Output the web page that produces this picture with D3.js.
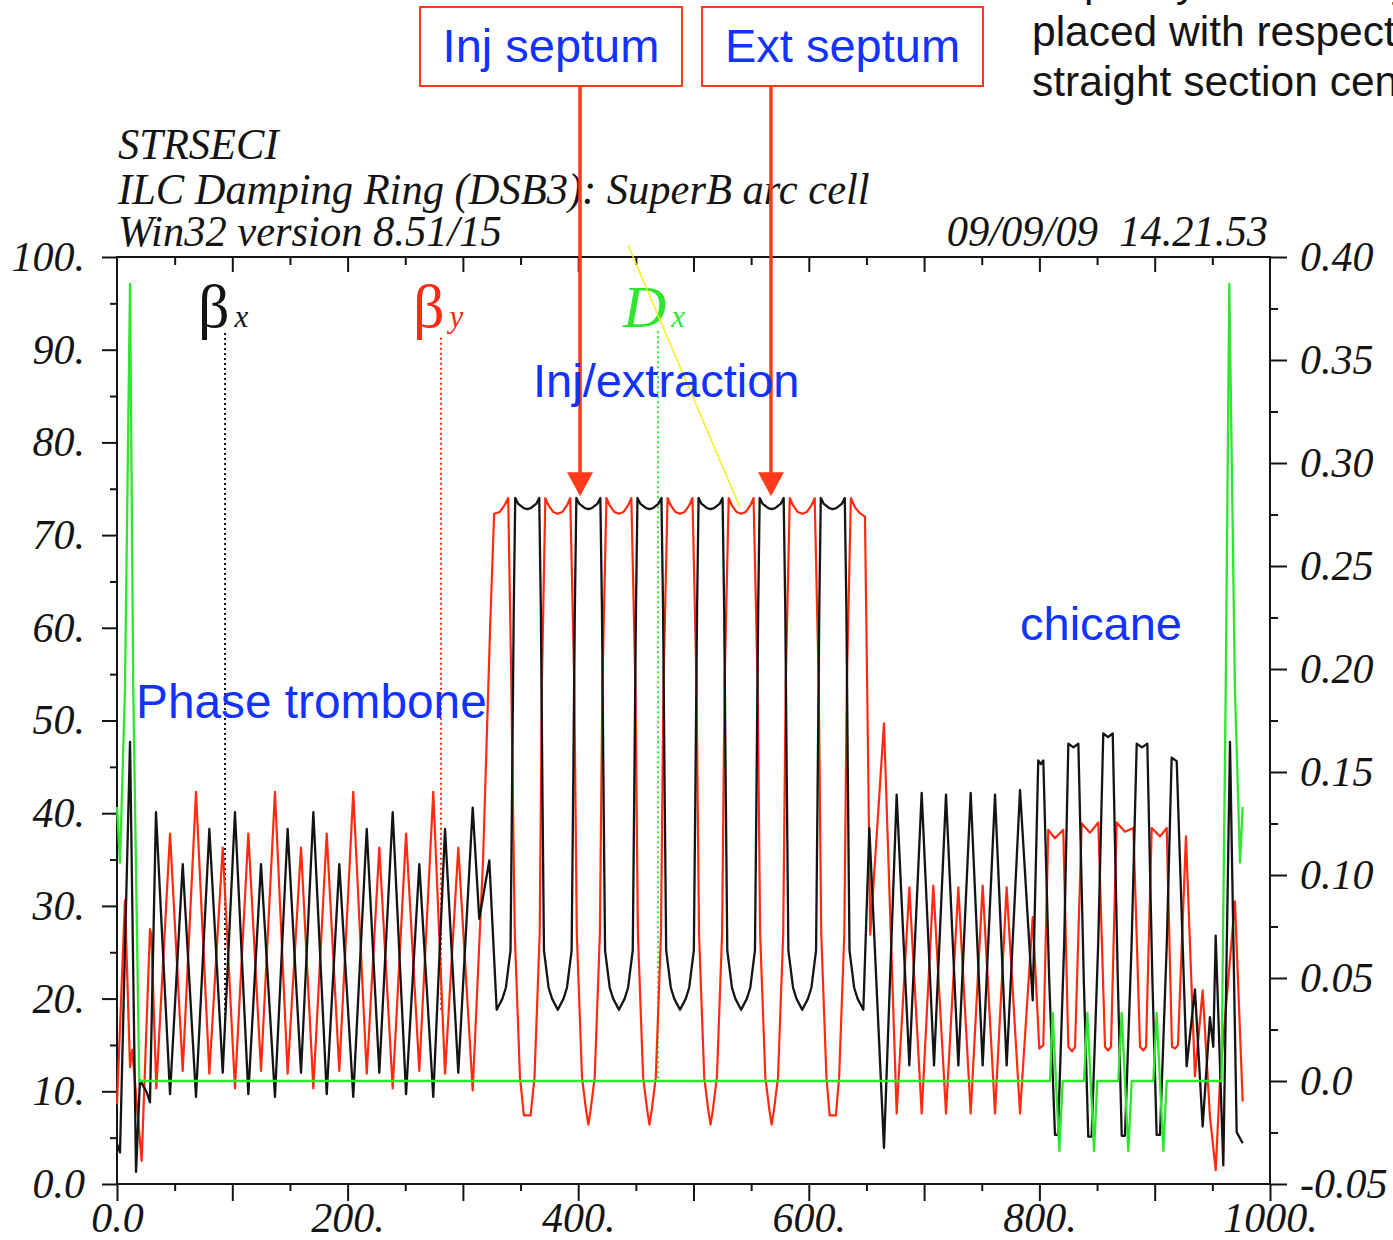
<!DOCTYPE html>
<html><head><meta charset="utf-8">
<script src="https://cdn.jsdelivr.net/npm/d3@7"></script>
<style>
html,body{margin:0;padding:0;background:#fff;}
svg{display:block;}
</style></head>
<body>
<svg id="chart" width="1393" height="1240"></svg>
<script>
// ---------- data (s [m], value) ----------
const betaX = [
[0,4.3],[2.6,3.4],[11.3,47.7],[16.5,1.3],[19.9,11.2],[25.8,9.9],[28.6,8.8],
[33.8,40.1],[46.0,9.7],[57.0,34.5],[68.5,9.4],[80.1,38.3],[91.7,12.0],
[102.3,40.1],[113.9,9.7],[124.9,34.5],[137.0,9.4],[148.0,38.3],[159.6,12.0],
[170.3,40.1],[181.9,9.7],[192.8,34.5],[204.9,9.4],[216.6,38.3],[227.5,12.0],
[239.1,40.1],[250.7,9.7],[262.2,34.5],[274.3,9.4],[284.5,38.3],[296.0,12.0],
[308.5,40.6],[314.2,28.6],[322.9,34.9],
[329.3,18.8],[334.3,20.0],[337.3,21.2],[341.3,25.2],[342.6,42],[344.1,62],[345.4,74.0],[347.8,73.4],[352.8,72.9],[355.8,72.8],[358.8,72.9],[363.8,73.4],[366.2,74.0],[367.6,62],[369.0,42],[370.3,25.2],[374.3,21.2],[377.3,20.0],
[382.3,18.8],[387.3,20.0],[390.3,21.2],[394.3,25.2],[395.6,42],[397.1,62],[398.4,74.0],[400.8,73.4],[405.8,72.9],[408.8,72.8],[411.8,72.9],[416.8,73.4],[419.2,74.0],[420.6,62],[422.0,42],[423.3,25.2],[427.3,21.2],[430.3,20.0],
[435.3,18.8],[440.3,20.0],[443.3,21.2],[447.3,25.2],[448.6,42],[450.1,62],[451.4,74.0],[453.8,73.4],[458.8,72.9],[461.8,72.8],[464.8,72.9],[469.8,73.4],[472.2,74.0],[473.6,62],[475.0,42],[476.3,25.2],[480.3,21.2],[483.3,20.0],
[488.3,18.8],[493.3,20.0],[496.3,21.2],[500.3,25.2],[501.6,42],[503.1,62],[504.4,74.0],[506.8,73.4],[511.8,72.9],[514.8,72.8],[517.8,72.9],[522.8,73.4],[525.2,74.0],[526.6,62],[528.0,42],[529.3,25.2],[533.3,21.2],[536.3,20.0],
[541.3,18.8],[546.3,20.0],[549.3,21.2],[553.3,25.2],[554.6,42],[556.1,62],[557.4,74.0],[559.8,73.4],[564.8,72.9],[567.8,72.8],[570.8,72.9],[575.8,73.4],[578.2,74.0],[579.6,62],[581.0,42],[582.3,25.2],[586.3,21.2],[589.3,20.0],
[594.3,18.8],[599.3,20.0],[602.3,21.2],[606.3,25.2],[607.6,42],[609.1,62],[610.4,74.0],[612.8,73.4],[617.8,72.9],[620.8,72.8],[623.8,72.9],[628.8,73.4],[631.2,74.0],[632.6,62],[634.0,42],[635.3,25.2],[639.3,21.2],[642.3,20.0],
[647.3,18.8],[652.5,38.4],[665.2,3.9],[676.2,42],[687.2,12.8],[697.9,42.2],[708.6,12.8],[719.0,42],[729.7,12.8],[740.4,42.2],[750.8,12.8],[761.5,42],[771.6,12.8],[783.2,42.5],[794.2,19.8],
[799.0,45.7],[801.2,45.3],[803.4,45.7],[808.5,22],[813.5,5.3],[816.1,5.3],[821.5,26],[825.1,47.5],[829.5,47.1],[833.8,47.5],[838.5,22],[842.4,5.1],[845.3,5.1],[851.0,26],[855.4,48.6],[859.5,48.2],[863.6,48.6],[868.0,22],[871.4,5.2],[874.2,5.2],[880.0,26],[884.4,47.5],[889.0,47.1],[893.6,47.5],[898.0,22],[901.7,5.3],[904.6,5.3],[910.5,26],[914.7,46.0],[919.1,45.6],
[927.7,12.7],[934.9,21.0],[941.6,6.2],[947.9,18.0],[950.8,14.8],[952.9,26.8],[959.5,2.0],[965.3,47.7],[971.1,5.6],[976.3,4.4]
];

const betaY = [
[0,8.6],[6.9,30.6],[11.3,12.6],[13.2,14.5],[21.4,2.5],[28.6,27.5],[29.8,26.8],[34.1,10.3],
[46.0,37.8],[57.0,12.2],[68.5,42.3],[80.1,11.9],[91.7,36.3],[102.3,10.3],
[113.9,37.8],[124.9,12.2],[137.0,42.3],[148.0,11.9],[159.6,36.3],[170.3,10.3],
[181.9,37.8],[192.8,12.2],[204.9,42.3],[216.6,11.9],[227.5,36.3],[239.1,10.3],
[250.7,37.8],[262.2,12.2],[274.3,42.3],[284.5,11.9],[296.0,36.3],[308.5,10.1],
[317.5,35],[323.6,60],[327.1,72.3],
[332.0,72.5],[336.5,73.3],[339.3,74.0],[342.0,54],[345.0,27],[349.5,11.5],[352.9,7.4],[358.7,7.4],[362.1,11.5],[366.6,27],[368.5,54],
[371.5,74.0],[374.3,73.2],[378.3,72.5],[382.3,72.3],[386.3,72.5],[390.3,73.2],[393.1,74.0],[396.6,54],[398.8,27],[403.3,11.5],[406.8,8.0],[408.8,6.4],[410.8,8.0],[414.3,11.5],[418.8,27],[421.0,54],
[424.5,74.0],[427.3,73.2],[431.3,72.5],[435.3,72.3],[439.3,72.5],[443.3,73.2],[446.1,74.0],[449.6,54],[451.8,27],[456.3,11.5],[459.8,8.0],[461.8,6.4],[463.8,8.0],[467.3,11.5],[471.8,27],[474.0,54],
[477.5,74.0],[480.3,73.2],[484.3,72.5],[488.3,72.3],[492.3,72.5],[496.3,73.2],[499.1,74.0],[502.6,54],[504.8,27],[509.3,11.5],[512.8,8.0],[514.8,6.4],[516.8,8.0],[520.3,11.5],[524.8,27],[527.0,54],
[530.5,74.0],[533.3,73.2],[537.3,72.5],[541.3,72.3],[545.3,72.5],[549.3,73.2],[552.1,74.0],[555.6,54],[557.8,27],[562.3,11.5],[565.8,8.0],[567.8,6.4],[569.8,8.0],[573.3,11.5],[577.8,27],[580.0,54],
[583.5,74.0],[586.3,73.2],[590.3,72.5],[594.3,72.3],[598.3,72.5],[602.3,73.2],[605.1,74.0],[608.6,54],[610.8,27],[615.3,11.5],[618.1,7.4],[623.5,7.4],[626.3,11.5],[630.8,27],[633.0,54],
[636.5,74.0],[640.0,73.0],[644.0,72.4],[648.7,72.0],[650.5,55],[653.3,26.9],[665.2,49.7],[676.2,7.6],
[687.2,32],[697.9,7.6],[708.0,32.2],[719.0,7.6],[729.7,32],[740.4,7.6],[750.8,32.2],[761.5,7.6],[771.6,32],[783.2,7.6],[794.2,28.8],[799.9,14.6],[803.4,15.0],
[807.7,38.2],[813.5,37.3],[820.7,38.2],[825.1,14.8],[828.3,14.3],[830.9,14.8],
[836.7,38.9],[843.9,37.9],[851.1,39.0],[856.9,14.8],[859.5,14.4],[862.1,14.8],
[867.0,39.0],[874.2,38.0],[881.5,38.4],[887.3,14.8],[890.1,14.4],[892.5,14.8],
[897.4,38.4],[904.6,37.5],[910.4,38.4],[915.0,14.8],[917.6,14.6],[920.2,15.0],
[927.1,37.5],[934.9,11.6],[941.6,20.9],[947.9,7.3],[952.9,1.5],[957.0,12],[969.6,30.5],[976.3,8.9]
];

const dispX = [
[0,0.133],[2.6,0.106],[6.9,0.19],[11.3,0.387],[14.1,0.19],[19.3,0],
[809.2,0],[811.5,0.033],[817.3,-0.034],[820.2,0],
[838.7,0],[841.6,0.033],[847.4,-0.034],[850.2,0],
[868.4,0],[871.4,0.033],[877.1,-0.034],[880.1,0],
[898.8,0],[901.7,0.033],[907.5,-0.034],[910.4,0],
[957.9,0],[961.6,0.19],[964.7,0.387],[969.6,0.19],[974.0,0.106],[976.3,0.133]
];

const leftTicks = [0,10,20,30,40,50,60,70,80,90,100];
const leftTickLabels = ["0.0","10.","20.","30.","40.","50.","60.","70.","80.","90.","100."];
const bottomTicks = [0,200,400,600,800,1000];
const bottomTickLabels = ["0.0","200.","400.","600.","800.","1000."];
const rightTicks = [-0.05,0,0.05,0.10,0.15,0.20,0.25,0.30,0.35,0.40];
const rightTickLabels = ["-0.05","0.0","0.05","0.10","0.15","0.20","0.25","0.30","0.35","0.40"];

const titleLines = ["STRSECI","ILC Damping Ring (DSB3): SuperB arc cell","Win32 version 8.51/15"];
const dateText = "09/09/09  14.21.53";

// ---------- layout ----------
const svg = d3.select("#chart");
const X0=117, X1=1270, Y0=257, Y1=1184;
const x = d3.scaleLinear([0,1000],[X0,X1]);
const yL = d3.scaleLinear([0,100],[Y1,Y0]);
const yR = d3.scaleLinear([-0.05,0.40],[Y1,Y0]);

const SERIF = "'Liberation Serif','Times New Roman',serif";
const SANS = "'Liberation Sans',Arial,sans-serif";
const RED = "#ff2a10", GREEN = "#2ee62e", BLUE = "#1232ff", BOXRED="#ff3a1a", INK="#141414";

function styleAxis(g){
  g.select(".domain").remove();
  g.selectAll(".tick line").attr("stroke",INK).attr("stroke-width",2);
  g.selectAll("text").attr("font-family",SERIF).attr("font-style","italic").attr("font-size",42).attr("fill",INK);
}

// left axis
svg.append("g").attr("transform",`translate(${X0},0)`)
  .call(d3.axisLeft(yL).tickValues(leftTicks).tickSize(15).tickPadding(17).tickFormat((d,i)=>leftTickLabels[i]))
  .call(styleAxis);
svg.append("g").attr("transform",`translate(${X0},0)`)
  .call(d3.axisLeft(yL).tickValues(d3.range(5,100,10)).tickSize(7).tickFormat(""))
  .call(styleAxis);
// right axis
svg.append("g").attr("transform",`translate(${X1},0)`)
  .call(d3.axisRight(yR).tickValues(rightTicks).tickSize(17).tickPadding(13).tickFormat((d,i)=>rightTickLabels[i]))
  .call(styleAxis);
svg.append("g").attr("transform",`translate(${X1},0)`)
  .call(d3.axisRight(yR).tickValues(d3.range(-0.025,0.40,0.05)).tickSize(8).tickFormat(""))
  .call(styleAxis);
// bottom axis
svg.append("g").attr("transform",`translate(0,${Y1})`)
  .call(d3.axisBottom(x).tickValues(d3.range(0,1001,100)).tickSize(17).tickFormat(""))
  .call(styleAxis);
svg.append("g").attr("transform",`translate(0,${Y1})`)
  .call(d3.axisBottom(x).tickValues(d3.range(50,1000,100)).tickSize(7).tickFormat(""))
  .call(styleAxis);
svg.append("g").attr("transform",`translate(0,${Y1})`)
  .call(d3.axisBottom(x).tickValues(bottomTicks).tickSize(0).tickPadding(18).tickFormat((d,i)=>bottomTickLabels[i]))
  .call(styleAxis);
// top axis (ticks inward)
svg.append("g").attr("transform",`translate(0,${Y0})`)
  .call(d3.axisTop(x).tickValues(d3.range(100,1000,100)).tickSize(-15).tickFormat(""))
  .call(styleAxis);
svg.append("g").attr("transform",`translate(0,${Y0})`)
  .call(d3.axisTop(x).tickValues(d3.range(50,1000,100)).tickSize(-8).tickFormat(""))
  .call(styleAxis);

// frame
svg.append("rect").attr("x",X0).attr("y",Y0).attr("width",X1-X0).attr("height",Y1-Y0)
  .attr("fill","none").attr("stroke",INK).attr("stroke-width",2);

// title block (condensed serif italic)
svg.selectAll("text.title").data(titleLines).join("text").attr("class","title")
  .attr("transform",(d,i)=>`translate(118,${[159,204,246][i]}) scale(0.945,1)`)
  .attr("font-family",SERIF).attr("font-style","italic").attr("font-size",45).attr("fill",INK)
  .text(d=>d);
svg.append("text").attr("transform","translate(1268,246) scale(0.945,1)").attr("text-anchor","end")
  .attr("font-family",SERIF).attr("font-style","italic").attr("font-size",45).attr("fill",INK)
  .style("white-space","pre").text(dateText);

// label leaders (dotted)
const leaders = [
  {s:93.7, top:91.8, bot:17.3, color:INK},
  {s:281.0, top:91.3, bot:18.8, color:RED},
  {s:469.2, top:92.0, bot:11.2, color:GREEN}
];
svg.selectAll("line.leader").data(leaders).join("line").attr("class","leader")
  .attr("x1",d=>x(d.s)).attr("x2",d=>x(d.s)).attr("y1",d=>yL(d.top)).attr("y2",d=>yL(d.bot))
  .attr("stroke",d=>d.color).attr("stroke-width",2).attr("stroke-dasharray","2,3");

// curves
const line = (ys)=>d3.line().x(d=>x(d[0])).y(d=>ys(d[1]));
svg.append("path").datum(betaY).attr("d",line(yL)).attr("fill","none").attr("stroke",RED).attr("stroke-width",2.2).attr("stroke-linejoin","round");
svg.append("path").datum(betaX).attr("d",line(yL)).attr("fill","none").attr("stroke",INK).attr("stroke-width",2.3).attr("stroke-linejoin","round");
svg.append("path").datum(dispX).attr("d",line(yR)).attr("fill","none").attr("stroke",GREEN).attr("stroke-width",2.3).attr("stroke-linejoin","round");

// curve labels
function sym(xp, main, sub, color, mainItalic, mainSize){
  const t = svg.append("text").attr("x",xp).attr("y",327).attr("fill",color).attr("font-family",SERIF);
  t.append("tspan").attr("font-size",mainSize).attr("font-style",mainItalic?"italic":"normal").text(main);
  t.append("tspan").attr("font-size",31).attr("font-style","italic").attr("dx",5).text(sub);
}
sym(198,"β","x",INK,false,62);
sym(413,"β","y",RED,false,62);
sym(623,"D","x",GREEN,true,60);

// yellow pointer
svg.append("line").attr("x1",x(443.2)).attr("y1",yL(101.3)).attr("x2",x(540.3)).attr("y2",yL(73.0))
  .attr("stroke","#f2ee00").attr("stroke-width",1.3);

// septum boxes and arrows
const boxes = [
  {label:"Inj septum", x0:420, x1:682, s:401.6},
  {label:"Ext septum", x0:702, x1:983, s:567.2}
];
boxes.forEach(b=>{
  svg.append("rect").attr("x",b.x0).attr("y",7).attr("width",b.x1-b.x0).attr("height",79)
    .attr("fill","#fff").attr("stroke",BOXRED).attr("stroke-width",2);
  svg.append("text").attr("x",(b.x0+b.x1)/2).attr("y",62).attr("text-anchor","middle")
    .attr("font-family",SANS).attr("font-size",47).attr("fill",BLUE).text(b.label);
  const ax = x(b.s), tip = yL(74.2);
  svg.append("line").attr("x1",ax).attr("x2",ax).attr("y1",86).attr("y2",tip-20)
    .attr("stroke",BOXRED).attr("stroke-width",3.5);
  svg.append("path").attr("d",`M${ax-13},${tip-24}L${ax+13},${tip-24}L${ax},${tip}Z`).attr("fill",BOXRED);
});

// blue annotations
const notes = [
  {t:"Inj/extraction", x:533, y:397, size:47},
  {t:"Phase trombone", x:136, y:718, size:47.8},
  {t:"chicane", x:1020, y:640, size:47}
];
svg.selectAll("text.note").data(notes).join("text").attr("class","note")
  .attr("x",d=>d.x).attr("y",d=>d.y).attr("font-family",SANS).attr("font-size",d=>d.size).attr("fill",BLUE).text(d=>d.t);

// top-right slide text (cropped by the page edge)
const slideLines = [
  {t:"Septa symmetrically", y:-4},
  {t:"placed with respect to the", y:46},
  {t:"straight section center", y:96}
];
svg.selectAll("text.slide").data(slideLines).join("text").attr("class","slide")
  .attr("x",1032).attr("y",d=>d.y).attr("font-family",SANS).attr("font-size",42.5).attr("fill",INK).text(d=>d.t);
</script>
</body></html>
